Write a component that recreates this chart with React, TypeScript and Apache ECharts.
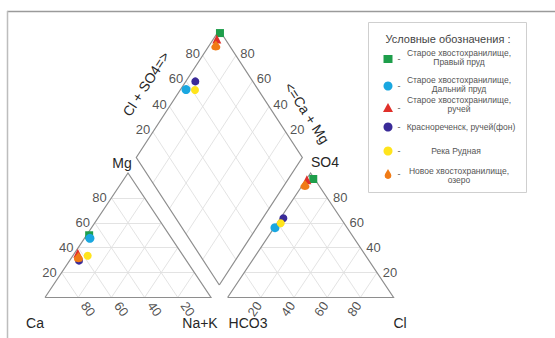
import React, { useEffect, useRef } from "react";
import * as echarts from "echarts";

// ---- data ----
const sampleNames = [
  "Старое хвостохранилище,\nПравый пруд",
  "Старое хвостохранилище,\nДальний пруд",
  "Старое хвостохранилище,\nручей",
  "Краснореченск, ручей(фон)",
  "Река Рудная",
  "Новое хвостохранилище,\nозеро",
];
const sampleColors = ["#1e9e4b", "#1aa7e0", "#e0302a", "#3a2b98", "#ffe41c", "#f07b16"];
// cations, % meq
const mgPct = [50, 47.5, 35.5, 29.6, 33.6, 32.3];
const naKPct = [1.6, 3.3, 2.0, 5.7, 8.9, 4.0];
// anions, % meq
const so4Pct = [95.2, 56.1, 94.5, 63.6, 59.6, 90.4];
const clPct = [4.0, 0.5, 0.5, 1.8, 2.2, 1.4];
const tickValues = [20, 40, 60, 80];
const legendTitle = "Условные обозначения :";

// ---- geometry (Piper units) ----
const GAP = 10;
const TH = 86.6;
const DB = 8.7;
const DH = 88.7;
const PX_X = 1.66;
const PX_Y = 1.4376;
const DROP = "M12 0 L19 12 A8 8 0 1 1 5 12 Z";

echarts.graphic.registerShape("drop", echarts.graphic.extendPath(DROP, {}) as any);

const L = (ca: number, na: number, mg: number) => [na + mg / 2, (TH * mg) / 100];
const R = (hco3: number, cl: number, so4: number) => [100 + GAP + cl + so4 / 2, (TH * so4) / 100];
const D = (a: number, c: number) => [100 + GAP / 2 + (50 * (a - c)) / 100, DB + (DH * (a + c)) / 100];
const off = (p: number[], dx: number, dy: number) => [p[0] + dx / PX_X, p[1] - dy / PX_Y];

const FONT = "'Liberation Sans', Arial, sans-serif";

export default function App() {
  const ref = useRef<HTMLDivElement>(null);
  useEffect(() => {
    if (!ref.current) return;
    const chart = echarts.init(ref.current, null, { renderer: "svg" });

    const gridSegs: any[] = [];
    tickValues.forEach((t) => {
      gridSegs.push([L(100 - t, 0, t), L(0, 100 - t, t)]);
      gridSegs.push([L(t, 100 - t, 0), L(t, 0, 100 - t)]);
      gridSegs.push([L(100 - t, t, 0), L(0, t, 100 - t)]);
      gridSegs.push([R(100 - t, 0, t), R(0, 100 - t, t)]);
      gridSegs.push([R(t, 100 - t, 0), R(t, 0, 100 - t)]);
      gridSegs.push([R(100 - t, t, 0), R(0, t, 100 - t)]);
      gridSegs.push([D(t, 0), D(t, 100)]);
      gridSegs.push([D(0, t), D(100, t)]);
    });
    const outlines = [
      [L(100, 0, 0), L(0, 100, 0), L(0, 0, 100), L(100, 0, 0)],
      [R(100, 0, 0), R(0, 100, 0), R(0, 0, 100), R(100, 0, 0)],
      [D(0, 0), D(100, 0), D(100, 100), D(0, 100), D(0, 0)],
    ];

    const symbols: any[] = ["rect", "circle", "triangle", "circle", "circle", "path://" + DROP];
    const sizes: any[] = [8, 9, 9, 8, 8, [9, 10]];

    const sampleSeries = sampleNames.map((name, i) => {
      const caPct = 100 - mgPct[i] - naKPct[i];
      return {
        type: "scatter",
        name,
        symbol: symbols[i],
        symbolSize: sizes[i],
        clip: false,
        z: 5,
        itemStyle: { color: sampleColors[i], opacity: 1 },
        data: [
          L(caPct, naKPct[i], mgPct[i]),
          R(100 - so4Pct[i] - clPct[i], clPct[i], so4Pct[i]),
          D(so4Pct[i] + clPct[i], 100 - naKPct[i]),
        ],
      };
    });

    const labelSeries = (pts: number[][], rotate: number) => ({
      type: "scatter",
      symbolSize: 1,
      clip: false,
      silent: true,
      z: 3,
      itemStyle: { color: "transparent" },
      label: {
        show: true,
        position: "inside",
        rotate,
        formatter: (p: any) => String(p.value[2]),
        color: "#262626",
        fontSize: 13,
        fontFamily: FONT,
      },
      data: pts,
    });

    const mgLabels = tickValues.map((t) => [...off(L(100 - t, 0, t), -12, 0), t]);
    const caLabels = tickValues.map((t) => [...off(L(t, 100 - t, 0), 10, 11.5), t]);
    const so4Labels = tickValues.map((t) => [...off(R(0, 100 - t, t), 13, 0), t]);
    const clLabels = tickValues.map((t) => [...off(R(100 - t, t, 0), -6, 11.5), t]);
    const dLeftLabels = tickValues.map((t) => [...off(D(t, 100), -10, -2), t]);
    const dRightLabels = tickValues.map((t) => [...off(D(100, t), 11.5, -2), t]);

    const txt = (text: string, x: number, y: number, rot = 0, size = 14) => ({
      type: "text",
      x,
      y,
      rotation: (rot * Math.PI) / 180,
      style: {
        text,
        fill: "#262626",
        font: `${size}px ${FONT}`,
        textAlign: "center",
        textVerticalAlign: "middle",
      },
      z: 10,
    });

    const symX = 388;
    const symY = [59, 86, 108, 127, 151, 174];
    const textY = [57, 84, 104.5, 127, 151, 175.5];
    const textX = [459, 459, 459, 461, 456, 459];
    const legendEls: any[] = [
      {
        type: "rect",
        shape: { x: 368.5, y: 22.5, width: 158, height: 170 },
        style: { fill: "#fff", stroke: "#cfcfcf", lineWidth: 1 },
      },
      {
        type: "text",
        x: 448,
        y: 39,
        style: { text: legendTitle, fill: "#444", font: `11px ${FONT}`, textAlign: "center", textVerticalAlign: "middle" },
      },
    ];
    sampleNames.forEach((name, i) => {
      const y = symY[i];
      const c = sampleColors[i];
      if (i === 0) legendEls.push({ type: "rect", shape: { x: symX - 4.5, y: y - 4, width: 9, height: 8 }, style: { fill: c } });
      else if (i === 2) legendEls.push({ type: "polygon", shape: { points: [[symX, y - 5], [symX + 5, y + 4], [symX - 5, y + 4]] }, style: { fill: c } });
      else if (i === 5) legendEls.push({ type: "drop", x: symX - 12 * 0.42, y: y - 12 * 0.42, scaleX: 0.42, scaleY: 0.42, style: { fill: c } });
      else legendEls.push({ type: "circle", shape: { cx: symX, cy: y, r: 4.5 }, style: { fill: c } });
      legendEls.push({
        type: "text",
        x: 399,
        y,
        style: { text: "-", fill: "#555", font: `9px ${FONT}`, textAlign: "center", textVerticalAlign: "middle" },
      });
      legendEls.push({
        type: "text",
        x: textX[i],
        y: textY[i],
        style: {
          text: name,
          fill: "#555",
          font: `8.5px ${FONT}`,
          lineHeight: 9,
          textAlign: "center",
          textVerticalAlign: "middle",
        },
      });
    });

    const option: any = {
      animation: false,
      backgroundColor: "#fff",
      grid: { left: 45, top: 30, width: 348.6, height: 267.5 },
      xAxis: { type: "value", min: 0, max: 210, show: false },
      yAxis: { type: "value", min: 0, max: 186.1, show: false },
      series: [
        {
          type: "lines",
          coordinateSystem: "cartesian2d",
          silent: true,
          z: 1,
          lineStyle: { color: "#e0e0e0", width: 0.9, opacity: 1 },
          data: gridSegs.map((s) => ({ coords: s })),
        },
        {
          type: "lines",
          coordinateSystem: "cartesian2d",
          polyline: true,
          silent: true,
          z: 2,
          lineStyle: { color: "#8e8e8e", width: 1.2, opacity: 1 },
          data: outlines.map((s) => ({ coords: s })),
        },
        labelSeries(mgLabels, 0),
        labelSeries(caLabels, -55),
        labelSeries(so4Labels, 0),
        labelSeries(clLabels, 55),
        labelSeries(dLeftLabels, 0),
        labelSeries(dRightLabels, 0),
        ...sampleSeries,
      ],
      graphic: [
        { type: "line", shape: { x1: 7, y1: 11.5, x2: 555, y2: 11.5 }, style: { stroke: "#9a9a9a", lineWidth: 1.5 } },
        { type: "line", shape: { x1: 7.5, y1: 11, x2: 7.5, y2: 338 }, style: { stroke: "#bdbdbd", lineWidth: 1.5 } },
        txt("Mg", 122, 163),
        txt("SO4", 325, 162),
        txt("Ca", 35, 323),
        txt("Na+K", 200, 323),
        txt("HCO3", 248, 323),
        txt("Cl", 400, 323),
        txt("Cl + SO4=>", 146, 84, 57),
        txt("<=Ca + Mg", 307, 113, -57),
        ...legendEls,
      ],
    };
    chart.setOption(option);
    return () => chart.dispose();
  }, []);
  return (
    <div
      ref={ref}
      style={{ position: "absolute", left: 0, top: 0, width: 555, height: 338, background: "#fff" }}
    />
  );
}
